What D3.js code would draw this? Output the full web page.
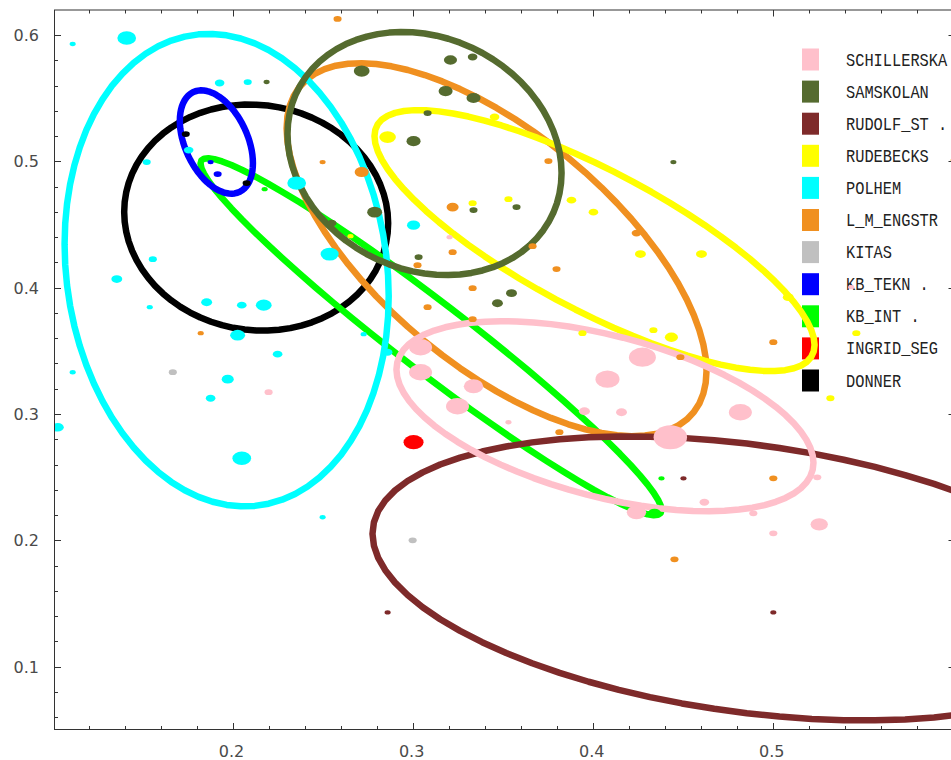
<!DOCTYPE html>
<html><head><meta charset="utf-8">
<script src="https://cdn.jsdelivr.net/npm/d3@7"></script>
<style>html,body{margin:0;padding:0;background:#fff;overflow:hidden}svg{display:block}</style>
</head><body>
<script>
// ---------- data ----------
const groups = ["SCHILLERSKA","SAMSKOLAN","RUDOLF_ST","RUDEBECKS","POLHEM","L_M_ENGSTR","KITAS","KB_TEKN","KB_INT","INGRID_SEG","DONNER"];
const legendLabels = ["SCHILLERSKA","SAMSKOLAN","RUDOLF_ST .","RUDEBECKS  .","POLHEM","L_M_ENGSTR","KITAS","KB_TEKN .","KB_INT .","INGRID_SEG","DONNER"];
const groupColors = ["#FFC0CB","#556B2F","#7E2A2A","#FFFF00","#00FFFF","#F09020","#C0C0C0","#0000FF","#00FF00","#FF0000","#000000"];

const xMajorTicks = [0.2,0.3,0.4,0.5];
const xMinorTicks = [0.12,0.14,0.16,0.18,0.22,0.24,0.26,0.28,0.32,0.34,0.36,0.38,0.42,0.44,0.46,0.48,0.52,0.54,0.56,0.58];
const yMajorTicks = [0.1,0.2,0.3,0.4,0.5,0.6];
const yMinorTicks = [0.06,0.08,0.12,0.14,0.16,0.18,0.22,0.24,0.26,0.28,0.32,0.34,0.36,0.38,0.42,0.44,0.46,0.48,0.52,0.54,0.56,0.58];

// group ellipses: centre, half-width, half-height, tilt (y offset of the rightmost point / half-height)
const ellipseGroups = ["DONNER","KB_INT","KB_TEKN","L_M_ENGSTR","POLHEM","RUDEBECKS","RUDOLF_ST","SAMSKOLAN","SCHILLERSKA"];
const ellipseCx   = [0.2131, 0.3102, 0.1910, 0.3466, 0.1967, 0.4010, 0.4856, 0.3066, 0.4068];
const ellipseCy   = [0.4555, 0.3612, 0.5153, 0.4301, 0.4139, 0.4373, 0.1699, 0.5062, 0.2983];
const ellipseRx   = [0.0733, 0.1280, 0.0203, 0.1166, 0.0900, 0.1222, 0.2079, 0.0761, 0.1158];
const ellipseRy   = [0.0895, 0.1413, 0.0409, 0.1476, 0.1870, 0.1033, 0.1124, 0.0962, 0.0752];
const ellipseTilt = [-0.05, -0.97, -0.41, -0.65, -0.11, -0.80, -0.314, -0.16, -0.49];

// individual schools (points): group, x, y, count
const pointGroup = [
 "DONNER","DONNER",
 "INGRID_SEG",
 "KB_INT","KB_INT","KB_INT",
 "KB_TEKN","KB_TEKN",
 "KITAS","KITAS",
 "L_M_ENGSTR","L_M_ENGSTR","L_M_ENGSTR","L_M_ENGSTR","L_M_ENGSTR","L_M_ENGSTR","L_M_ENGSTR","L_M_ENGSTR","L_M_ENGSTR","L_M_ENGSTR",
 "L_M_ENGSTR","L_M_ENGSTR","L_M_ENGSTR","L_M_ENGSTR","L_M_ENGSTR","L_M_ENGSTR","L_M_ENGSTR","L_M_ENGSTR","L_M_ENGSTR",
 "POLHEM","POLHEM","POLHEM","POLHEM","POLHEM","POLHEM","POLHEM","POLHEM","POLHEM","POLHEM",
 "POLHEM","POLHEM","POLHEM","POLHEM","POLHEM","POLHEM","POLHEM","POLHEM","POLHEM","POLHEM",
 "POLHEM","POLHEM","POLHEM","POLHEM","POLHEM",
 "RUDEBECKS","RUDEBECKS","RUDEBECKS","RUDEBECKS","RUDEBECKS","RUDEBECKS","RUDEBECKS","RUDEBECKS","RUDEBECKS","RUDEBECKS",
 "RUDEBECKS","RUDEBECKS","RUDEBECKS","RUDEBECKS","RUDEBECKS",
 "RUDOLF_ST","RUDOLF_ST","RUDOLF_ST","RUDOLF_ST",
 "SAMSKOLAN","SAMSKOLAN","SAMSKOLAN","SAMSKOLAN","SAMSKOLAN","SAMSKOLAN","SAMSKOLAN","SAMSKOLAN","SAMSKOLAN","SAMSKOLAN",
 "SAMSKOLAN","SAMSKOLAN","SAMSKOLAN","SAMSKOLAN","SAMSKOLAN","SAMSKOLAN",
 "SCHILLERSKA","SCHILLERSKA","SCHILLERSKA","SCHILLERSKA","SCHILLERSKA","SCHILLERSKA","SCHILLERSKA","SCHILLERSKA","SCHILLERSKA","SCHILLERSKA",
 "SCHILLERSKA","SCHILLERSKA","SCHILLERSKA","SCHILLERSKA","SCHILLERSKA","SCHILLERSKA","SCHILLERSKA","SCHILLERSKA","SCHILLERSKA","SCHILLERSKA"
];
const pointX = [
 0.1740,0.2078,
 0.3005,
 0.2178,0.4382,0.4343,
 0.1878,0.1917,
 0.1668,0.3000,
 0.2583,0.2500,0.2717,0.3754,0.3222,0.3222,0.3666,0.3027,0.3799,0.4243,
 0.3333,0.3083,0.3333,0.3815,0.4487,0.5003,0.5003,0.4454,0.1823,
 0.1412,0.1112,0.1928,0.2084,0.1756,0.1523,0.2356,0.1557,0.1357,0.1540,
 0.1856,0.2051,0.2173,0.2028,0.2250,0.1112,0.1973,0.1878,0.1029,0.2051,
 0.2500,0.2539,0.3005,0.2728,0.2861,
 0.3455,0.2861,0.3333,0.3532,0.3882,0.4004,0.2655,0.4265,0.4604,0.5086,
 0.4337,0.4437,0.3943,0.5464,0.5320,
 0.4504,0.5331,0.2861,0.5003,
 0.2189,0.3210,0.3333,0.2717,0.3183,0.3338,0.3083,0.3005,0.3338,0.3577,
 0.2789,0.2550,0.3033,0.3549,0.3471,0.4448,
 0.3205,0.2200,0.3044,0.3044,0.3338,0.3249,0.4082,0.4276,0.3532,0.3954,
 0.4160,0.4820,0.4431,0.5247,0.4620,0.4892,0.5258,0.4243,0.5003,0.5436
];
const pointY = [
 0.5216,0.4828,
 0.2777,
 0.4780,0.2491,0.2214,
 0.4994,0.4899,
 0.3331,0.2000,
 0.6127,0.4994,0.4915,0.5002,0.4638,0.4281,0.4329,0.4178,0.4147,0.4432,
 0.3996,0.3846,0.3751,0.2856,0.3450,0.3569,0.2491,0.1850,0.3640,
 0.5976,0.5929,0.5620,0.5628,0.5089,0.4994,0.4828,0.4226,0.4068,0.3846,
 0.3885,0.3862,0.3862,0.3624,0.3474,0.3331,0.3276,0.3125,0.2895,0.2650,
 0.2183,0.4266,0.4495,0.3632,0.3489,
 0.5351,0.5192,0.4669,0.4701,0.4693,0.4598,0.4408,0.4266,0.4266,0.3925,
 0.3664,0.3608,0.3640,0.3640,0.3125,
 0.2491,0.2658,0.1430,0.1430,
 0.5628,0.5802,0.5826,0.5715,0.5556,0.5501,0.5382,0.5160,0.4614,0.4638,
 0.4598,0.4511,0.4242,0.3957,0.3877,0.4994,
 0.4400,0.3173,0.3529,0.3331,0.3220,0.3062,0.3276,0.3450,0.2935,0.3022,
 0.3014,0.3014,0.2816,0.2499,0.2302,0.2214,0.2127,0.2222,0.2056,0.4004
];
const pointCount = [
 2,2,
 15,
 1,1,6,
 1,2,
 2,2,
 2,1,7,2,5,2,2,2,2,3,
 2,2,2,2,2,2,2,2,1,
 13,1,3,2,3,2,13,2,4,1,
 4,3,9,8,3,1,5,3,5,13,
 1,12,6,1,3,
 3,10,2,2,3,3,1,4,4,4,
 2,6,2,2,2,
 1,1,1,1,
 1,6,3,9,7,7,2,7,2,2,
 8,3,2,4,4,1,
 1,2,20,20,14,20,22,28,1,4,
 4,20,44,2,3,2,11,14,2,1
];

// ---------- layout ----------
const W = 951, H = 760;
const plot = {left: 54.5, right: 955, top: 10, bottom: 729.5};
const x = d3.scaleLinear().domain([0.1011, 0.6012]).range([plot.left, plot.right]);
const y = d3.scaleLinear().domain([0.0503, 0.6198]).range([plot.bottom, plot.top]);
const r = d3.scaleSqrt().domain([0, 50]).range([0.6, 17.8]);
const color = d3.scaleOrdinal().domain(groups).range(groupColors);
const aspect = 1.4;

const svg = d3.select("body").append("svg").attr("width", W).attr("height", H);

svg.append("defs").append("clipPath").attr("id","pc")
  .append("rect").attr("x", plot.left).attr("y", plot.top)
  .attr("width", plot.right - plot.left).attr("height", plot.bottom - plot.top);

// ---------- legend (drawn under the data) ----------
const legend = svg.append("g");
const legY = d3.scalePoint().domain(groups).range([59.5, 380.5]);
groups.forEach((g, i) => {
  const cy = legY(g);
  legend.append("rect").attr("x", 802).attr("y", cy - 11).attr("width", 17).attr("height", 22)
    .attr("fill", color(g));
  const lbl = legendLabels[i];
  legend.append("text").attr("x", 846).attr("y", cy + 6)
    .attr("font-family", "'Liberation Mono','Courier New',monospace")
    .attr("font-size", 19).attr("fill", "#222")
    .attr("textLength", lbl.length * 9.2).attr("lengthAdjust", "spacingAndGlyphs")
    .style("white-space", "pre").attr("xml:space", "preserve")
    .text(lbl);
});

// ---------- ellipses ----------
const gData = svg.append("g").attr("clip-path", "url(#pc)");
const line = d3.line().x(d => x(d[0])).y(d => y(d[1])).curve(d3.curveLinearClosed);
ellipseGroups.forEach((g, i) => {
  const phi = Math.acos(ellipseTilt[i]);
  const pts = d3.range(72).map(j => {
    const t = 2 * Math.PI * j / 72;
    return [ellipseCx[i] + ellipseRx[i] * Math.cos(t), ellipseCy[i] + ellipseRy[i] * Math.cos(t - phi)];
  });
  gData.append("path").attr("d", line(pts)).attr("fill", "none")
    .attr("stroke", color(g)).attr("stroke-width", 6.5)
    .attr("stroke-linejoin", "round").attr("stroke-linecap", "round");
});

// ---------- points ----------
const order = d3.range(pointX.length);
gData.selectAll("ellipse.pt").data(order).join("ellipse")
  .attr("class", "pt")
  .attr("cx", i => x(pointX[i])).attr("cy", i => y(pointY[i]))
  .attr("rx", i => r(pointCount[i])).attr("ry", i => r(pointCount[i]) / aspect)
  .attr("fill", i => color(pointGroup[i]));

// ---------- frame & ticks ----------
const frame = svg.append("g").attr("stroke", "#333").attr("stroke-width", 1).attr("fill", "none");
frame.append("rect").attr("x", plot.left).attr("y", plot.top)
  .attr("width", plot.right - plot.left).attr("height", plot.bottom - plot.top);
function xt(v, len) {
  const px = Math.round(x(v)) + 0.5;
  frame.append("line").attr("x1", px).attr("x2", px).attr("y1", plot.bottom).attr("y2", plot.bottom - len);
  frame.append("line").attr("x1", px).attr("x2", px).attr("y1", plot.top).attr("y2", plot.top + len);
}
function yt(v, len) {
  const py = Math.round(y(v)) + 0.5;
  frame.append("line").attr("y1", py).attr("y2", py).attr("x1", plot.left).attr("x2", plot.left + len);
  frame.append("line").attr("y1", py).attr("y2", py).attr("x1", plot.right).attr("x2", plot.right - len);
}
xMajorTicks.forEach(v => xt(v, 6.5));
xMinorTicks.forEach(v => xt(v, 3.5));
yMajorTicks.forEach(v => yt(v, 6.5));
yMinorTicks.forEach(v => yt(v, 3.5));

const lab = svg.append("g").attr("font-family", "'DejaVu Sans',Verdana,sans-serif")
  .attr("font-size", 16).attr("fill", "#4a4a4a");
xMajorTicks.forEach(v => {
  lab.append("text").attr("x", x(v) - 1).attr("y", 757).attr("text-anchor", "middle").text(d3.format(".1f")(v));
});
yMajorTicks.forEach(v => {
  lab.append("text").attr("x", 39).attr("y", y(v) + 6).attr("text-anchor", "end").text(d3.format(".1f")(v));
});
</script>
</body></html>
